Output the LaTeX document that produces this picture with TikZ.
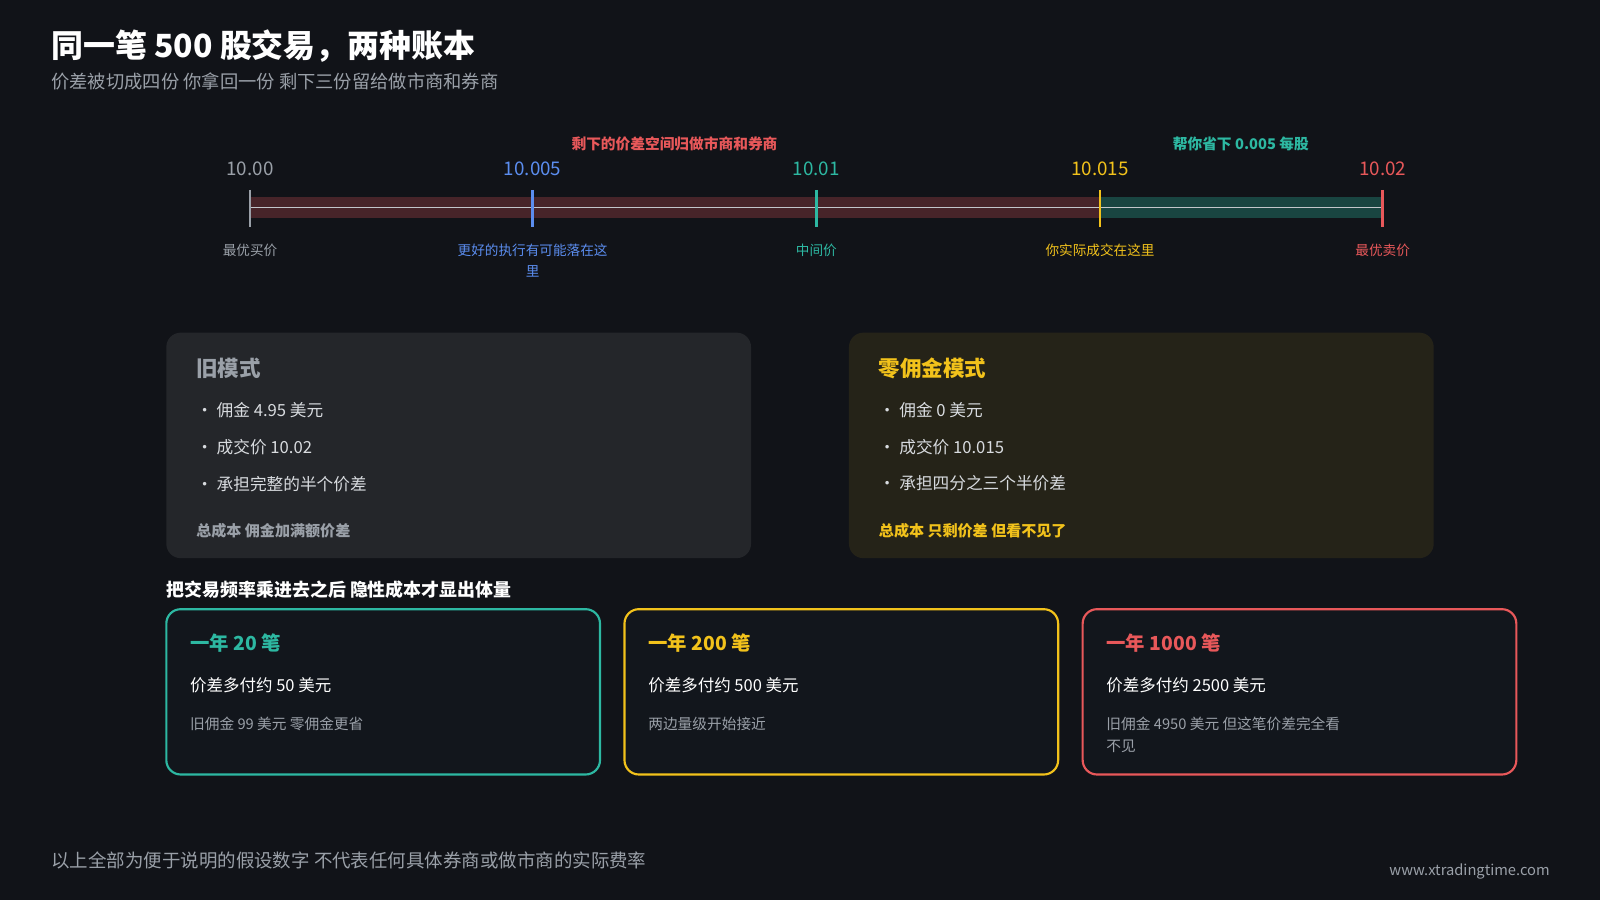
\documentclass[tikz,border=0pt]{standalone}
\usepackage{fontspec}
\setmainfont{Noto Sans CJK SC}
\usetikzlibrary{positioning}
\definecolor{bg}{HTML}{111318}
\definecolor{cardbg}{HTML}{12161C}
\definecolor{teal}{HTML}{2DB8A2}
\definecolor{gold}{HTML}{F2C21B}
\definecolor{redc}{HTML}{E8585A}
\definecolor{bluec}{HTML}{5B8DEF}
\definecolor{grayc}{HTML}{9AA0A8}
\definecolor{lgray}{HTML}{C8CCD2}
\tikzset{
    fs/.style={font={\fontsize{#1pt}{\dimexpr#1pt*3/2\relax}\selectfont}},
    bfs/.style={font={\fontsize{#1pt}{\dimexpr#1pt*3/2\relax}\selectfont\bfseries}},
    txt/.style={anchor=west, inner sep=0pt, text=white},
    tick/.style={line width=1.6pt},
    price/.style={fs=10.5, inner sep=0pt},
    tag/.style={fs=7.6, inner sep=0pt, align=center, anchor=north},
    panel/.style={rounded corners=8pt, draw=none},
    card/.style={rounded corners=8pt, line width=1.2pt, fill=cardbg},
}
\begin{document}
\begin{tikzpicture}[x=0.02cm, y=-0.02cm]
\fill[bg] (0,0) rectangle (1568,882);
\useasboundingbox (0,0) rectangle (1568,882);

% title
\node[txt, bfs=17.8] (title) at (50,45) {同一笔 500 股交易，两种账本};
\node[txt, fs=10.2, text=grayc] (sub) at (50,80) {价差被切成四份\ 你拿回一份\ 剩下三份留给做市商和券商};

% timeline
\fill[redc!25!bg] (245,193) rectangle (1078,214);
\fill[teal!30!bg] (1078,193) rectangle (1355,214);
\draw[grayc!60, line width=0.8pt] (245,203.5) -- (1355,203.5);
\foreach \x/\c/\p/\l in {245/grayc/10.00/最优买价, 522/bluec/10.005/更好的执行有可能落在这\\里,
    800/teal/10.01/中间价, 1078/gold/10.015/你实际成交在这里, 1355/redc/10.02/最优卖价}{
  \draw[tick, \c] (\x,186) -- (\x,222);
  \node[price, text=\ifx\c grayc lgray\else\c\fi] at (\x,165) {\p};
  \node[tag, text=\c, text width=3.2cm] at (\x,239) {\l};
}
\node[bfs=8.2, text=redc, inner sep=0pt] (left-note) at (661,141) {剩下的价差空间归做市商和券商};
\node[bfs=8.2, text=teal, inner sep=0pt] (right-note) at (1216,141) {帮你省下 0.005 每股};

% panels
\fill[panel, fill=white!8!bg] (163,326) rectangle (736,547);
\fill[panel, fill=gold!9!bg] (832,326) rectangle (1405,547);
\node[txt, bfs=12, text=grayc] (old-title) at (192,361) {旧模式};
\foreach \t [count=\i] in {佣金 4.95 美元, 成交价 10.02, 承担完整的半个价差}
  \node[txt, fs=9.3, text=lgray!70!white] at (192,366+\i*36) {·\ \t};
\node[txt, bfs=8.4, text=grayc] (old-sum) at (192,520) {总成本\ 佣金加满额价差};
\node[txt, bfs=12, text=gold] (new-title) at (861,361) {零佣金模式};
\foreach \t [count=\i] in {佣金 0 美元, 成交价 10.015, 承担四分之三个半价差}
  \node[txt, fs=9.3, text=lgray!70!white] at (861,366+\i*36) {·\ \t};
\node[txt, bfs=8.4, text=gold] (new-sum) at (861,520) {总成本\ 只剩价差\ 但看不见了};

% frequency cards
\node[txt, bfs=10] (freq) at (163,578) {把交易频率乘进去之后\ 隐性成本才显出体量};
\foreach \x/\c/\n/\a/\b in {163/teal/20/50/旧佣金 99 美元\ 零佣金更省,
    612/gold/200/500/两边量级开始接近,
    1061/redc/1000/2500/旧佣金 4950 美元\ 但这笔价差完全看\\不见}{
  \draw[card, draw=\c] (\x,597) rectangle (\x+425,759);
  \node[txt, bfs=10.8, text=\c] at (\x+23,630) {一年 \n\ 笔};
  \node[txt, fs=9.2] at (\x+23,672) {价差多付约 \a\ 美元};
  \node[txt, fs=8.2, text=grayc, anchor=north west, align=left] at (\x+23,702) {\b};
}

% footer
\node[txt, fs=10.3, text=grayc] (foot) at (50,843) {以上全部为便于说明的假设数字\ 不代表任何具体券商或做市商的实际费率};
\node[fs=8.2, text=grayc, inner sep=0pt, anchor=east] (url) at (1519,854) {www.xtradingtime.com};
\end{tikzpicture}
\end{document}
